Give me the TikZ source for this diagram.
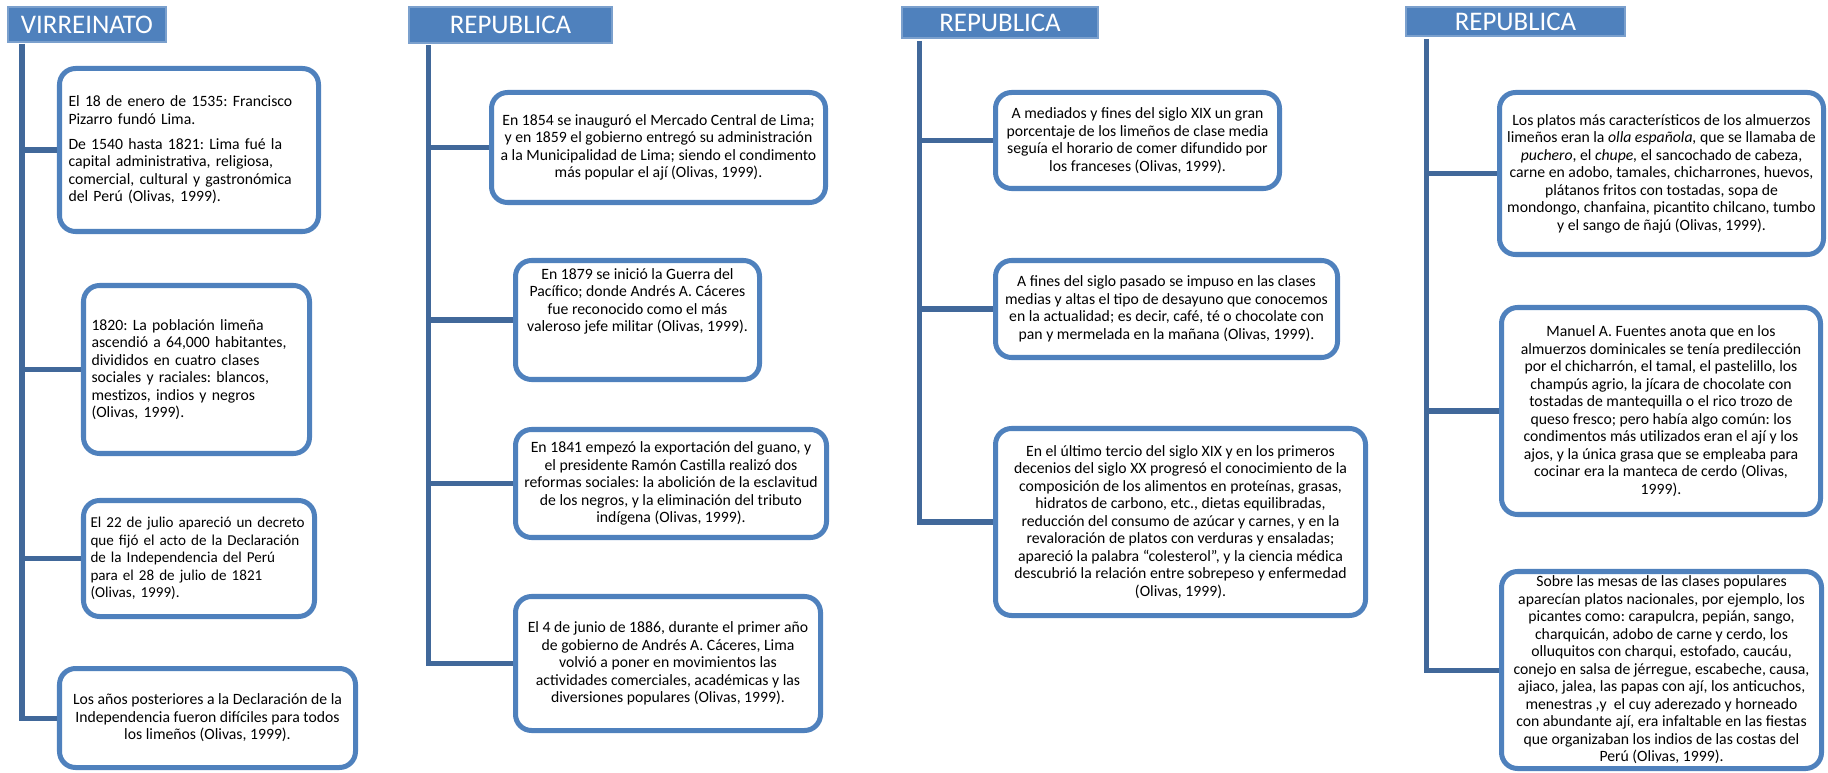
\documentclass[tikz,border=0pt]{standalone}
\usepackage{fontspec}
\setmainfont{Carlito}
\definecolor{acc}{HTML}{4F81BD}
\definecolor{linec}{HTML}{41689A}
\newcommand{\txtsz}{\fontsize{8.95}{9.96}\selectfont\frenchspacing}
\newcommand{\txtsm}{\fontsize{8.6}{9.96}\selectfont\frenchspacing}
\begin{document}
\begin{tikzpicture}[x=0.02cm,y=-0.02cm,
  box/.style={draw=acc, line width=2.85pt, rounded corners=0.32cm, fill=white, font=\txtsz, inner sep=0pt},
  bx/.style 2 args={minimum width=#1*0.02cm, minimum height=#2*0.02cm},
  lbox/.style={box, align=left, text width=#1*0.02cm},
  cbox/.style={box, align=center},
  hdr/.style={fill=acc, draw=acc!75!white, line width=0.6pt, text=white, font=\fontsize{15.3}{18}\selectfont, inner sep=0pt},
  conn/.style={draw=linec, line width=2.85pt}]
\useasboundingbox (0,0) rectangle (1828,773);

% headers
\node[hdr,bx={158}{35}] (h1) at (87,24.5) {VIRREINATO};
\node[hdr,bx={203}{36}] (h2) at (510.5,25) {REPUBLICA};
\node[hdr,bx={196}{31}] (h3) at (1000,22.5) {REPUBLICA};
\node[hdr,bx={219}{29}] (h4) at (1515.5,21.5) {REPUBLICA};

% trunk tops
\coordinate (t1) at (22,44);
\coordinate (t2) at (428,45);
\coordinate (t3) at (919,41);
\coordinate (t4) at (1426,39);

% column 1
\node[lbox=241,bx={259}{163}] (b11) at (189,150) {\mbox{El 18 de enero de 1535: Francisco}\\ \mbox{Pizarro fundó Lima.}\\[4.3pt] \mbox{De 1540 hasta 1821: Lima fué la}\\ \mbox{capital administrativa, religiosa,}\\ \mbox{comercial, cultural y gastronómica}\\ \mbox{del Perú (Olivas, 1999).}};
\node[lbox=210,bx={226}{168}] (b12) at (196.5,369.5) {\mbox{1820: La población limeña}\\ \mbox{ascendió a 64,000 habitantes,}\\ \mbox{divididos en cuatro clases}\\ \mbox{sociales y raciales: blancos,}\\ \mbox{mestizos, indios y negros}\\ \mbox{(Olivas, 1999).}};
\node[lbox=217,bx={231}{116},font=\txtsm] (b13) at (199,558.5) {\mbox{El 22 de julio apareció un decreto}\\ \mbox{que fijó el acto de la Declaración}\\ \mbox{de la Independencia del Perú}\\ \mbox{para el 28 de julio de 1821}\\ \mbox{(Olivas, 1999).}};
\node[cbox,bx={296}{99}] (b14) at (207.5,718) {Los años posteriores a la Declaración de la\\ Independencia fueron difíciles para todos\\ los limeños (Olivas, 1999).};

% column 2
\node[cbox,bx={334}{110}] (b21) at (658.5,147.5) {En 1854 se inauguró el Mercado Central de Lima;\\ y en 1859 el gobierno entregó su administración\\ a la Municipalidad de Lima; siendo el condimento\\ más popular el ají (Olivas, 1999).};
\node[box,bx={244}{119}] (b22) at (637.5,320) {\parbox[c][2.28cm][t]{4.8cm}{\centering\vspace*{3pt}En 1879 se inició la Guerra del\\ Pacífico; donde Andrés A. Cáceres\\ fue reconocido como el más\\ valeroso jefe militar (Olivas, 1999).}};
\node[cbox,bx={311}{108}] (b23) at (671,483.5) {En 1841 empezó la exportación del guano, y\\ el presidente Ramón Castilla realizó dos\\ reformas sociales: la abolición de la esclavitud\\ de los negros, y la eliminación del tributo\\ indígena (Olivas, 1999).};
\node[cbox,bx={305}{134}] (b24) at (668,663.5) {El 4 de junio de 1886, durante el primer año\\ de gobierno de Andrés A. Cáceres, Lima\\ volvió a poner en movimientos las\\ actividades comerciales, académicas y las\\ diversiones populares (Olivas, 1999).};

% column 3
\node[cbox,bx={284}{96}] (b31) at (1137.5,140.5) {A mediados y fines del siglo XIX un gran\\ porcentaje de los limeños de clase media\\ seguía el horario de comer difundido por\\ los franceses (Olivas, 1999).};
\node[cbox,bx={342}{97}] (b32) at (1166.5,309) {A fines del siglo pasado se impuso en las clases\\ medias y altas el tipo de desayuno que conocemos\\ en la actualidad; es decir, café, té o chocolate con\\ pan y mermelada en la mañana (Olivas, 1999).};
\node[cbox,bx={370}{187}] (b33) at (1180.5,522) {En el último tercio del siglo XIX y en los primeros\\ decenios del siglo XX progresó el conocimiento de la\\ composición de los alimentos en proteínas, grasas,\\ hidratos de carbono, etc., dietas equilibradas,\\ reducción del consumo de azúcar y carnes, y en la\\ revaloración de platos con verduras y ensaladas;\\ apareció la palabra “colesterol”, y la ciencia médica\\ descubrió la relación entre sobrepeso y enfermedad\\ (Olivas, 1999).};

% column 4
\node[cbox,bx={324}{162}] (b41) at (1661.5,173.5) {Los platos más característicos de los almuerzos\\ limeños eran la \textit{olla española,} que se llamaba de\\ \textit{puchero}, el \textit{chupe,} el sancochado de cabeza,\\ carne en adobo, tamales, chicharrones, huevos,\\ plátanos fritos con tostadas, sopa de\\ mondongo, chanfaina, picantito chilcano, tumbo\\ y el sango de ñajú (Olivas, 1999).};
\node[cbox,bx={319}{207}] (b42) at (1661,411) {Manuel A. Fuentes anota que en los\\ almuerzos dominicales se tenía predilección\\ por el chicharrón, el tamal, el pastelillo, los\\ champús agrio, la jícara de chocolate con\\ tostadas de mantequilla o el rico trozo de\\ queso fresco; pero había algo común: los\\ condimentos más utilizados eran el ají y los\\ ajos, y la única grasa que se empleaba para\\ cocinar era la manteca de cerdo (Olivas,\\ 1999).};
\node[cbox,bx={320}{197}] (b43) at (1661.5,670) {Sobre las mesas de las clases populares\\ aparecían platos nacionales, por ejemplo, los\\ picantes como: carapulcra, pepián, sango,\\ charquicán, adobo de carne y cerdo, los\\ olluquitos con charqui, estofado, caucáu,\\ conejo en salsa de jérregue, escabeche, causa,\\ ajiaco, jalea, las papas con ají, los anticuchos,\\ menestras ,y\ \ el cuy aderezado y horneado\\ con abundante ají, era infaltable en las fiestas\\ que organizaban los indios de las costas del\\ Perú (Olivas, 1999).};

% connectors
\draw[conn] (t1) |- (b14.west);
\draw[conn] (t1 |- b11.west) -- (b11.west);
\draw[conn] (t1 |- b12.west) -- (b12.west);
\draw[conn] (t1 |- b13.west) -- (b13.west);

\draw[conn] (t2) |- (b24.west);
\draw[conn] (t2 |- b21.west) -- (b21.west);
\draw[conn] (t2 |- b22.west) -- (b22.west);
\draw[conn] (t2 |- b23.west) -- (b23.west);

\draw[conn] (t3) |- (b33.west);
\draw[conn] (t3 |- b31.west) -- (b31.west);
\draw[conn] (t3 |- b32.west) -- (b32.west);

\draw[conn] (t4) |- (b43.west);
\draw[conn] (t4 |- b41.west) -- (b41.west);
\draw[conn] (t4 |- b42.west) -- (b42.west);
\end{tikzpicture}
\end{document}
